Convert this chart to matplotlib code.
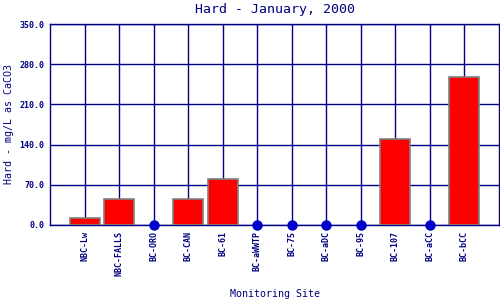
import matplotlib
matplotlib.use("Agg")
import matplotlib.pyplot as plt
import numpy as np

sites = ["NBC-Lw", "NBC-FALLS", "BC-ORO", "BC-CAN", "BC-61", "BC-aWWTP",
         "BC-75", "BC-aDC", "BC-95", "BC-107", "BC-aCC", "BC-bCC"]
hardness = [12, 45, 0, 45, 80, 0, 0, 0, 0, 150, 0, 258]
yticks = [0, 70, 140, 210, 280, 350]

navy = "#000080"
plt.rcParams['font.family'] = ['DejaVu Sans Mono']

fig = plt.figure(figsize=(5, 3), dpi=100)
ax = fig.add_axes([0.1, 0.25, 0.898, 0.67])

x = np.arange(1, len(sites) + 1)
vals = np.array(hardness, dtype=float)
for xi, v in zip(x, vals):
    if v > 0:
        ax.bar(xi, v, width=0.87, color="#ff0000", edgecolor="#808080",
               linewidth=1.2, zorder=3)
    else:
        ax.plot(xi, 0, "o", color="#0000cc", markersize=6.5, zorder=4, clip_on=False)

ax.set_xlim(0, len(sites) + 1)
ax.set_ylim(0, 350)
ax.set_yticks(yticks)
ax.set_yticklabels([f"{t:.1f}" for t in yticks], fontsize=6, fontweight="bold", color=navy)
ax.set_xticks(x)
ax.set_xticklabels(sites, rotation=90, fontsize=6, color=navy, fontweight="bold")
ax.tick_params(axis="both", length=0, pad=4)
ax.grid(True, color=navy, linewidth=1.0, zorder=0)
ax.set_axisbelow(True)
for s in ["left", "bottom", "right", "top"]:
    ax.spines[s].set_color(navy)
    ax.spines[s].set_linewidth(1.0)

fig.text(0.55, 1 - 10 / 300, "Hard - January, 2000", fontsize=9.5, color=navy,
         ha="center", va="center")
fig.text(0.55, 1 - 294 / 300, "Monitoring Site", fontsize=7.2, color=navy,
         ha="center", va="center")
fig.text(9 / 500, 1 - 124 / 300, "Hard - mg/L as CaCO3", fontsize=7.2, color=navy,
         ha="center", va="center", rotation=90)

fig.savefig("out.png", dpi=100)
